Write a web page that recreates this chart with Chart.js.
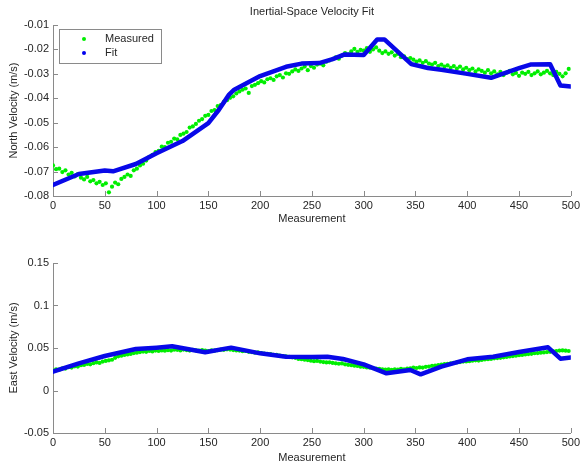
<!DOCTYPE html>
<html>
<head>
<meta charset="utf-8">
<script src="https://cdn.jsdelivr.net/npm/chart.js@4.4.0/dist/chart.umd.min.js"></script>
<style>
  html, body { margin: 0; padding: 0; background: #fff; }
  #top { position: absolute; left: 0; top: 0; }
  #bottom { position: absolute; left: 0; top: 240px; }
</style>
</head>
<body>
<canvas id="top" width="583" height="240"></canvas>
<canvas id="bottom" width="583" height="226"></canvas>
<script>
// measured samples are every 3rd measurement (0, 3, 6, ... 498)
const STEP = 3;
const xTicks = [0, 50, 100, 150, 200, 250, 300, 350, 400, 450, 500];
const northTicks = [-0.08, -0.07, -0.06, -0.05, -0.04, -0.03, -0.02, -0.01];
const eastTicks = [-0.05, 0, 0.05, 0.1, 0.15];

const northMeasured = [
  -0.0675, -0.0690, -0.0688, -0.0702, -0.0695, -0.0712, -0.0705, -0.0720, -0.0710, -0.0725,
  -0.0732, -0.0722, -0.0740, -0.0735, -0.0748, -0.0742, -0.0755, -0.0748, -0.0785, -0.0762,
  -0.0745, -0.0752, -0.0730, -0.0722, -0.0712, -0.0718, -0.0695, -0.0688, -0.0675, -0.0668,
  -0.0655, -0.0640, -0.0632, -0.0620, -0.0615, -0.0598, -0.0600, -0.0582, -0.0578, -0.0565,
  -0.0568, -0.0550, -0.0545, -0.0538, -0.0520, -0.0515, -0.0505, -0.0492, -0.0485, -0.0472,
  -0.0468, -0.0452, -0.0448, -0.0432, -0.0428, -0.0415, -0.0408, -0.0398, -0.0392, -0.0380,
  -0.0372, -0.0365, -0.0360, -0.0378, -0.0350, -0.0345, -0.0338, -0.0330, -0.0335, -0.0322,
  -0.0318, -0.0325, -0.0310, -0.0305, -0.0315, -0.0298, -0.0300, -0.0290, -0.0282, -0.0288,
  -0.0278, -0.0270, -0.0285, -0.0268, -0.0275, -0.0262, -0.0258, -0.0265, -0.0250, -0.0245,
  -0.0240, -0.0232, -0.0238, -0.0225, -0.0215, -0.0220, -0.0208, -0.0198, -0.0210, -0.0202,
  -0.0205, -0.0195, -0.0210, -0.0200, -0.0192, -0.0205, -0.0215, -0.0208, -0.0218, -0.0212,
  -0.0225, -0.0218, -0.0232, -0.0228, -0.0240, -0.0235, -0.0242, -0.0250, -0.0245, -0.0255,
  -0.0248, -0.0258, -0.0262, -0.0255, -0.0268, -0.0262, -0.0270, -0.0265, -0.0275, -0.0268,
  -0.0278, -0.0270, -0.0282, -0.0275, -0.0285, -0.0278, -0.0290, -0.0282, -0.0288, -0.0295,
  -0.0285, -0.0298, -0.0290, -0.0302, -0.0292, -0.0305, -0.0295, -0.0288, -0.0302, -0.0296,
  -0.0308, -0.0295, -0.0300, -0.0292, -0.0305, -0.0298, -0.0290, -0.0302, -0.0295, -0.0288,
  -0.0298, -0.0305, -0.0292, -0.0300, -0.0310, -0.0298, -0.0280
];

const northFitX = [0, 25, 50, 58, 80, 100, 125, 150, 160, 170, 175, 200, 225, 240, 257, 270, 281, 300, 313, 320, 346, 362, 375, 400, 423, 450, 461, 480, 490, 500];
const northFitY = [-0.0755, -0.0710, -0.0696, -0.0699, -0.0669, -0.0625, -0.0575, -0.0502, -0.0448, -0.0385, -0.0365, -0.0309, -0.0271, -0.0258, -0.0256, -0.0240, -0.0221, -0.0223, -0.0159, -0.0159, -0.0260, -0.0276, -0.0283, -0.0300, -0.0316, -0.0277, -0.0262, -0.0261, -0.0348, -0.0352];

const eastMeasured = [
  0.0235, 0.0250, 0.0245, 0.0262, 0.0258, 0.0275, 0.0270, 0.0285, 0.0282, 0.0298,
  0.0300, 0.0312, 0.0308, 0.0322, 0.0330, 0.0325, 0.0340, 0.0348, 0.0355, 0.0362,
  0.0385, 0.0402, 0.0410, 0.0418, 0.0425, 0.0430, 0.0440, 0.0445, 0.0452, 0.0458,
  0.0455, 0.0465, 0.0460, 0.0470, 0.0465, 0.0472, 0.0468, 0.0475, 0.0470, 0.0480,
  0.0478, 0.0472, 0.0482, 0.0476, 0.0470, 0.0478, 0.0472, 0.0468, 0.0475, 0.0470,
  0.0465, 0.0472, 0.0468, 0.0475, 0.0480, 0.0478, 0.0485, 0.0482, 0.0476, 0.0472,
  0.0470, 0.0462, 0.0465, 0.0455, 0.0452, 0.0445, 0.0448, 0.0440, 0.0435, 0.0430,
  0.0428, 0.0420, 0.0418, 0.0410, 0.0405, 0.0402, 0.0395, 0.0390, 0.0385, 0.0372,
  0.0368, 0.0362, 0.0358, 0.0350, 0.0345, 0.0348, 0.0340, 0.0335, 0.0330, 0.0332,
  0.0325, 0.0320, 0.0315, 0.0318, 0.0308, 0.0302, 0.0298, 0.0292, 0.0288, 0.0280,
  0.0278, 0.0272, 0.0268, 0.0262, 0.0258, 0.0255, 0.0250, 0.0245, 0.0248, 0.0242,
  0.0250, 0.0245, 0.0255, 0.0250, 0.0258, 0.0262, 0.0268, 0.0265, 0.0272, 0.0270,
  0.0278, 0.0282, 0.0290, 0.0292, 0.0300, 0.0305, 0.0310, 0.0315, 0.0320, 0.0325,
  0.0330, 0.0335, 0.0340, 0.0342, 0.0345, 0.0350, 0.0355, 0.0352, 0.0360, 0.0365,
  0.0368, 0.0372, 0.0378, 0.0382, 0.0385, 0.0390, 0.0395, 0.0400, 0.0405, 0.0410,
  0.0415, 0.0418, 0.0425, 0.0428, 0.0432, 0.0438, 0.0440, 0.0445, 0.0448, 0.0452,
  0.0455, 0.0460, 0.0465, 0.0470, 0.0472, 0.0468, 0.0465
];

const eastFitX = [0, 25, 50, 80, 100, 115, 147, 172, 200, 225, 250, 265, 280, 300, 322, 345, 355, 375, 400, 425, 450, 478, 490, 500];
const eastFitY = [0.0221, 0.0320, 0.0406, 0.0488, 0.0504, 0.0520, 0.0449, 0.0504, 0.0437, 0.0398, 0.0395, 0.0398, 0.0370, 0.0308, 0.0202, 0.0241, 0.0190, 0.0280, 0.0367, 0.0398, 0.0453, 0.0508, 0.0374, 0.0389];

const FONT = { family: "'Liberation Sans', Arial, sans-serif", size: 11 };
const TEXT = '#262626';
const AXIS = '#8a8a8a';

function samples(vals) {
  return vals.map((v, i) => ({ x: i * STEP, y: v }));
}
function pairs(xs, ys) {
  return xs.map((x, i) => ({ x: x, y: ys[i] }));
}
function fmt(v) {
  return String(Number(v.toFixed(2)));
}

// inward tick marks on the left and bottom axes
const innerTicks = {
  id: 'innerTicks',
  afterDraw(chart) {
    const c = chart.ctx;
    const a = chart.chartArea;
    c.save();
    c.strokeStyle = AXIS;
    c.lineWidth = 1;
    c.beginPath();
    chart.scales.x.ticks.forEach((t, i) => {
      const px = Math.round(chart.scales.x.getPixelForTick(i)) + 0.5;
      c.moveTo(px, a.bottom);
      c.lineTo(px, a.bottom - 5);
    });
    chart.scales.y.ticks.forEach((t, i) => {
      const py = Math.round(chart.scales.y.getPixelForTick(i)) + 0.5;
      c.moveTo(a.left, py);
      c.lineTo(a.left + 5, py);
    });
    c.stroke();
    c.restore();
  }
};

// boxed legend in the upper-left corner of the plot
const boxLegend = {
  id: 'boxLegend',
  afterDraw(chart, args, opts) {
    if (!opts.show) return;
    const c = chart.ctx;
    const a = chart.chartArea;
    const x0 = a.left + 6, y0 = a.top + 4, w = 102, h = 34;
    c.save();
    c.fillStyle = '#fff';
    c.fillRect(x0, y0, w, h);
    c.strokeStyle = AXIS;
    c.lineWidth = 1;
    c.strokeRect(Math.round(x0) + 0.5, Math.round(y0) + 0.5, w, h);
    c.font = FONT.size + 'px ' + FONT.family;
    c.textBaseline = 'middle';
    chart.data.datasets.forEach((ds, i) => {
      const cy = y0 + 10 + i * 14;
      c.fillStyle = ds.legendColor;
      c.beginPath();
      c.arc(x0 + 25, cy, 2, 0, Math.PI * 2);
      c.fill();
      c.fillStyle = TEXT;
      c.fillText(ds.label, x0 + 46, cy);
    });
    c.restore();
  }
};

function makeChart(id, measured, fitX, fitY, yMin, yMax, yTitle, opts) {
  const scales = {
    x: {
      type: 'linear', min: 0, max: 500,
      afterBuildTicks: s => { s.ticks = xTicks.map(v => ({ value: v })); },
      afterFit: s => { s.height = opts.xHeight; },
      grid: { display: false, drawTicks: false },
      border: { display: true, color: AXIS },
      ticks: { color: TEXT, font: FONT, padding: 3, maxRotation: 0 },
      title: { display: true, text: 'Measurement', color: TEXT, font: FONT, padding: { top: 0, bottom: opts.xTitlePad } }
    },
    y: {
      type: 'linear', min: yMin, max: yMax,
      afterBuildTicks: s => { s.ticks = opts.yTicks.map(v => ({ value: v })); },
      afterFit: s => { s.width = 53; },
      grid: { display: false, drawTicks: false },
      border: { display: true, color: AXIS },
      ticks: { color: TEXT, font: FONT, padding: 4, callback: v => fmt(v) },
      title: { display: true, text: yTitle, color: TEXT, font: FONT, padding: { top: 7, bottom: 0 } }
    }
  };
  if (opts.title) {
    scales.x2 = {
      type: 'linear', position: 'top', min: 0, max: 500,
      afterFit: s => { s.height = 25; },
      grid: { display: false, drawTicks: false },
      border: { display: false },
      ticks: { display: false },
      title: { display: true, text: opts.title, color: TEXT, font: FONT, padding: { top: 5, bottom: 0 } }
    };
  }
  return new Chart(document.getElementById(id).getContext('2d'), {
    type: 'scatter',
    data: {
      datasets: [
        {
          label: 'Measured',
          data: samples(measured),
          legendColor: '#00ee00',
          backgroundColor: '#00ee00',
          borderWidth: 0,
          pointRadius: 2.1,
          showLine: false,
          order: 1
        },
        {
          label: 'Fit',
          type: 'line',
          data: pairs(fitX, fitY),
          legendColor: '#0000ee',
          borderColor: '#0808e8',
          borderWidth: 4.5,
          borderJoinStyle: 'round',
          borderCapStyle: 'round',
          pointRadius: 0,
          tension: 0,
          fill: false,
          order: 0
        }
      ]
    },
    options: {
      responsive: false,
      animation: false,
      layout: { padding: { left: 0, right: 10, top: opts.padTop, bottom: 0 } },
      plugins: {
        legend: { display: false },
        tooltip: { enabled: false },
        boxLegend: { show: !!opts.legend }
      },
      scales: scales
    },
    plugins: [innerTicks, boxLegend]
  });
}

makeChart('top', northMeasured, northFitX, northFitY, -0.08, -0.01, 'North Velocity (m/s)',
  { yTicks: northTicks, xHeight: 44, xTitlePad: 14, padTop: 0, title: 'Inertial-Space Velocity Fit', legend: true });
makeChart('bottom', eastMeasured, eastFitX, eastFitY, -0.05, 0.15, 'East Velocity (m/s)',
  { yTicks: eastTicks, xHeight: 33, xTitlePad: 1, padTop: 23, legend: false });
</script>
</body>
</html>
